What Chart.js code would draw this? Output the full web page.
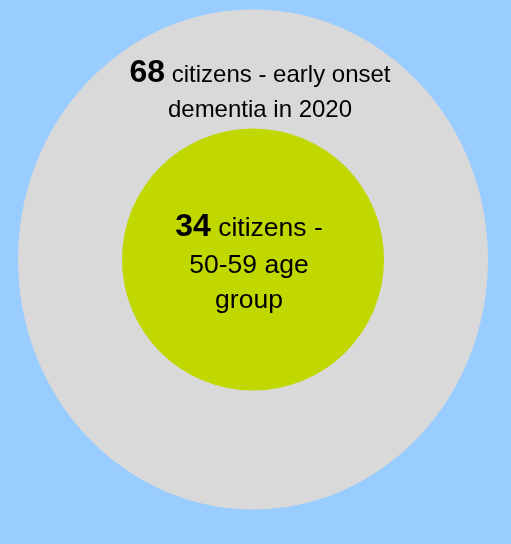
<!DOCTYPE html>
<html>
<head>
<meta charset="utf-8">
<script src="https://cdn.jsdelivr.net/npm/chart.js@4/dist/chart.umd.min.js"></script>
<style>
  html, body { margin: 0; padding: 0; background: #99CCFF; }
  #wrap { width: 511px; height: 544px; position: relative; }
</style>
</head>
<body>
<div id="wrap"><canvas id="c" width="511" height="544"></canvas></div>
<script>
// Groups and counts of citizens
const groups = ["early onset dementia in 2020", "50-59 age group"];
const counts = [68, 34];
// Caption text following each bold count, one entry per line
const captions = [
  ["citizens - early onset", "dementia in 2020"],
  ["citizens -", "50-59 age", "group"]
];

const fills = ["#D9D9D9", "#C0D700"];
const radii = [235, 131];
const outerStretch = 250 / 235;   // the outer disc is a slightly tall ellipse

// caption font sizes per disc: [bold count, body text]
const fontSizes = [[32, 24], [32, 26.5]];
// line placement relative to the disc centre: [dx, baseline dy]
const lineOffsets = [
  [[7, -178], [7, -143]],
  [[-4, -23.8], [-4, 13.8], [-4, 48.8]]
];

const FONT = '"Liberation Sans", Arial, sans-serif';

const ellipsePlugin = {
  id: 'ellipse',
  beforeDatasetDraw(chart, args) {
    if (args.index !== 0) return;
    const el = chart.getDatasetMeta(0).data[0];
    const ctx = chart.ctx;
    ctx.save();
    ctx.translate(el.x, el.y);
    ctx.scale(1, outerStretch);
    ctx.translate(-el.x, -el.y);
  },
  afterDatasetDraw(chart, args) {
    if (args.index !== 0) return;
    chart.ctx.restore();
  }
};

const captionPlugin = {
  id: 'captions',
  afterDatasetsDraw(chart) {
    const ctx = chart.ctx;
    ctx.save();
    ctx.fillStyle = '#000000';
    ctx.textBaseline = 'alphabetic';
    ctx.textAlign = 'left';
    counts.forEach((n, i) => {
      const el = chart.getDatasetMeta(i).data[0];
      const boldFont = 'bold ' + fontSizes[i][0] + 'px ' + FONT;
      const bodyFont = fontSizes[i][1] + 'px ' + FONT;
      captions[i].forEach((line, j) => {
        const [dx, dy] = lineOffsets[i][j];
        const cx = el.x + dx, y = el.y + dy;
        if (j === 0) {
          const num = String(n);
          const rest = ' ' + line;
          ctx.font = boldFont;
          const wn = ctx.measureText(num).width;
          ctx.font = bodyFont;
          const wr = ctx.measureText(rest).width;
          const x = cx - (wn + wr) / 2;
          ctx.font = boldFont;
          ctx.fillText(num, x, y);
          ctx.font = bodyFont;
          ctx.fillText(rest, x + wn, y);
        } else {
          ctx.font = bodyFont;
          const w = ctx.measureText(line).width;
          ctx.fillText(line, cx - w / 2, y);
        }
      });
    });
    ctx.restore();
  }
};

new Chart(document.getElementById('c'), {
  type: 'bubble',
  data: {
    labels: groups,
    datasets: groups.map((g, i) => ({
      label: g,
      data: [{ x: 0, y: 0 }],
      radius: radii[i],
      backgroundColor: fills[i],
      borderWidth: 0,
      clip: false,
      order: i === 0 ? 2 : 1
    }))
  },
  options: {
    responsive: false,
    animation: false,
    events: [],
    layout: { autoPadding: false, padding: { left: 0, right: 5, top: 0, bottom: 25 } },
    scales: {
      x: { display: false, min: -1, max: 1 },
      y: { display: false, min: -1, max: 1 }
    },
    plugins: {
      legend: { display: false },
      tooltip: { enabled: false }
    }
  },
  plugins: [ellipsePlugin, captionPlugin]
});
</script>
</body>
</html>
